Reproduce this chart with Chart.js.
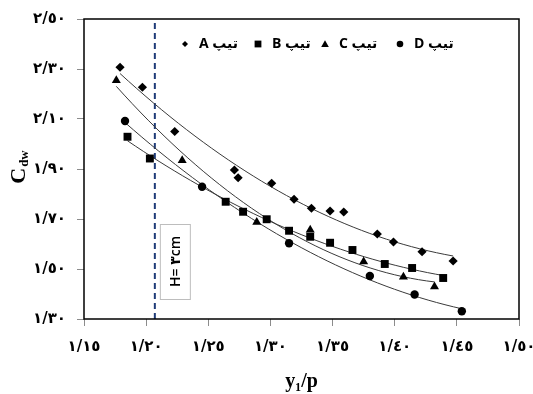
<!DOCTYPE html>
<html>
<head>
<meta charset="utf-8">
<script src="https://cdn.jsdelivr.net/npm/chart.js@4.4.1/dist/chart.umd.min.js"></script>
<style>
  html, body { margin: 0; padding: 0; background: #fff; }
  canvas { display: block; }
</style>
</head>
<body>
<canvas id="myChart" width="533" height="394"></canvas>
<script>
// series (x = y1/p, y = Cdw)
const seriesNames = ['تیپ A', 'تیپ B', 'تیپ C', 'تیپ D'];
const seriesStyles = ['rectRot', 'rect', 'triangle', 'circle'];

const aX = [1.179, 1.197, 1.223, 1.271, 1.274, 1.301, 1.319, 1.333, 1.348, 1.359, 1.386, 1.399, 1.422, 1.447];
const aY = [2.307, 2.227, 2.050, 1.896, 1.865, 1.843, 1.779, 1.743, 1.732, 1.728, 1.640, 1.608, 1.569, 1.532];

const bX = [1.185, 1.203, 1.264, 1.278, 1.297, 1.315, 1.332, 1.348, 1.366, 1.392, 1.414, 1.439];
const bY = [2.029, 1.942, 1.769, 1.729, 1.699, 1.653, 1.629, 1.605, 1.576, 1.520, 1.504, 1.464];

const cX = [1.176, 1.229, 1.289, 1.332, 1.375, 1.407, 1.432];
const cY = [2.254, 1.934, 1.687, 1.656, 1.529, 1.468, 1.429];

const dX = [1.183, 1.245, 1.315, 1.380, 1.416, 1.454];
const dY = [2.092, 1.829, 1.603, 1.472, 1.398, 1.331];

// H = 3cm reference line
const refLineX = 1.207;

const xTickValues = [1.15, 1.20, 1.25, 1.30, 1.35, 1.40, 1.45, 1.50];
const xTickLabels = ['١/١٥', '١/٢٠', '١/٢٥', '١/٣٠', '١/٣٥', '١/٤٠', '١/٤٥', '١/٥٠'];
const yTickValues = [1.30, 1.50, 1.70, 1.90, 2.10, 2.30, 2.50];
const yTickLabels = ['١/٣٠', '١/٥٠', '١/٧٠', '١/٩٠', '٢/١٠', '٢/٣٠', '٢/٥٠'];

const allX = [aX, bX, cX, dX];
const allY = [aY, bY, cY, dY];

// 2nd order least squares trend line, like the spreadsheet trendline
function trend(xs, ys) {
    let s = [0, 0, 0, 0, 0], t = [0, 0, 0];
    for (let i = 0; i < xs.length; i++) {
        const x = xs[i] - 1.3;
        let p = 1;
        for (let k = 0; k < 5; k++) { s[k] += p; if (k < 3) t[k] += p * ys[i]; p *= x; }
    }
    const m = [[s[0], s[1], s[2], t[0]], [s[1], s[2], s[3], t[1]], [s[2], s[3], s[4], t[2]]];
    for (let i = 0; i < 3; i++) {
        for (let j = i + 1; j < 3; j++) {
            const f = m[j][i] / m[i][i];
            for (let k = i; k < 4; k++) m[j][k] -= f * m[i][k];
        }
    }
    const c = [0, 0, 0];
    for (let i = 2; i >= 0; i--) {
        let v = m[i][3];
        for (let k = i + 1; k < 3; k++) v -= m[i][k] * c[k];
        c[i] = v / m[i][i];
    }
    const lo = Math.min(...xs), hi = Math.max(...xs);
    const pts = [];
    for (let i = 0; i <= 40; i++) {
        const x = lo + (hi - lo) * i / 40;
        const u = x - 1.3;
        pts.push({x: x, y: c[0] + c[1] * u + c[2] * u * u});
    }
    return pts;
}

const radii = [4.6, 5.6, 5.2, 4.2];
const datasets = [];
for (let i = 0; i < 4; i++) {
    datasets.push({
        label: seriesNames[i] + ' trend',
        data: trend(allX[i], allY[i]),
        showLine: true,
        borderColor: '#3a3a3a',
        borderWidth: 1,
        pointRadius: 0,
        order: 2
    });
    datasets.push({
        label: seriesNames[i],
        data: allX[i].map((x, j) => ({x: x, y: allY[i][j]})),
        pointStyle: seriesStyles[i],
        pointRadius: radii[i],
        backgroundColor: '#000',
        borderColor: '#000',
        borderWidth: 0,
        order: 0
    });
}
datasets.push({
    label: 'H',
    data: [{x: refLineX, y: 1.3}, {x: refLineX, y: 2.5}],
    showLine: true,
    borderColor: '#1f3c78',
    borderWidth: 2,
    borderDash: [6, 4],
    pointRadius: 0,
    order: 3
});

function marker(ctx, style, x, y, r) {
    ctx.beginPath();
    if (style == 'rectRot') {
        ctx.moveTo(x, y - r); ctx.lineTo(x + r, y); ctx.lineTo(x, y + r); ctx.lineTo(x - r, y);
    } else if (style == 'rect') {
        ctx.rect(x - r, y - r, 2 * r, 2 * r);
    } else if (style == 'triangle') {
        ctx.moveTo(x, y - r); ctx.lineTo(x + r, y + r * 0.8); ctx.lineTo(x - r, y + r * 0.8);
    } else {
        ctx.arc(x, y, r, 0, Math.PI * 2);
    }
    ctx.closePath();
    ctx.fill();
}

// legend item positions (marker centre, from plot left)
const legendPos = [101, 174, 241, 316];

const extras = {
    id: 'extras',
    afterDatasetsDraw(chart) {
        const ctx = chart.ctx;
        const a = chart.chartArea;
        const xs = chart.scales.x, ys = chart.scales.y;
        ctx.save();

        // H = 3cm label box
        const lx = xs.getPixelForValue(refLineX);
        const top = ys.getPixelForValue(1.68), bot = ys.getPixelForValue(1.38);
        ctx.fillStyle = '#fff';
        ctx.fillRect(lx + 5, top, 30, bot - top);
        ctx.strokeStyle = '#bdbdbd';
        ctx.lineWidth = 1;
        ctx.strokeRect(lx + 5.5, top + 0.5, 30, bot - top);
        ctx.save();
        ctx.translate(lx + 21, (top + bot) / 2);
        ctx.rotate(-Math.PI / 2);
        ctx.fillStyle = '#000';
        ctx.font = '600 14px "Open Sans", "DejaVu Sans"';
        ctx.textAlign = 'center';
        ctx.textBaseline = 'middle';
        ctx.fillText('H= ٣cm', 0, 0);
        ctx.restore();

        // frame
        ctx.strokeStyle = '#000';
        ctx.lineWidth = 1.5;
        ctx.strokeRect(a.left, a.top, a.right - a.left, a.bottom - a.top);

        // legend
        ctx.fillStyle = '#000';
        ctx.font = 'bold 14px "Open Sans", "DejaVu Sans"';
        ctx.textBaseline = 'middle';
        ctx.textAlign = 'left';
        ctx.direction = 'rtl';
        const lr = [3, 3.4, 3.8, 3.3];
        const cy = a.top + 25;
        for (let i = 0; i < 4; i++) {
            const cx = a.left + legendPos[i];
            marker(ctx, seriesStyles[i], cx, cy, lr[i]);
            ctx.fillText(seriesNames[i], cx + 14, cy);
        }
        ctx.direction = 'ltr';

        // y axis title C_dw
        ctx.save();
        ctx.font = 'bold 22px "Liberation Serif"';
        const wC = ctx.measureText('C').width;
        ctx.font = 'bold 13px "Liberation Serif"';
        const wS = ctx.measureText('dw').width;
        const mid = (a.top + a.bottom) / 2 - 2;
        ctx.translate(25, mid + (wC + wS + 1) / 2);
        ctx.rotate(-Math.PI / 2);
        ctx.textBaseline = 'alphabetic';
        ctx.font = 'bold 22px "Liberation Serif"';
        ctx.fillText('C', 0, 0);
        ctx.font = 'bold 13px "Liberation Serif"';
        ctx.fillText('dw', wC + 1, 3);
        ctx.restore();

        ctx.restore();
    }
};

const tickFont = {family: 'DejaVu Sans', size: 15, weight: 'bold'};

const config = {
    type: 'scatter',
    data: {datasets},
    options: {
        responsive: false,
        animation: false,
        layout: {padding: {left: 0, top: 19, right: 14, bottom: 0}},
        plugins: {
            legend: {display: false},
            tooltip: {enabled: false}
        },
        scales: {
            x: {
                type: 'linear',
                min: 1.15,
                max: 1.5,
                afterBuildTicks: (s) => { s.ticks = xTickValues.map(v => ({value: v})); },
                afterFit: (s) => { s.height = 75; s.paddingLeft = 0; s.paddingRight = 0; },
                ticks: {
                    callback: (v, i) => xTickLabels[i],
                    font: tickFont,
                    color: '#000',
                    padding: 12,
                    maxRotation: 0,
                    autoSkip: false
                },
                grid: {drawOnChartArea: false, drawTicks: true, tickLength: 7, color: '#8c8c8c'},
                border: {display: false},
                title: {
                    display: true,
                    text: 'y₁/p',
                    color: '#000',
                    font: {family: 'Liberation Serif', size: 20, weight: 'bold'},
                    padding: {top: 0, bottom: 0}
                }
            },
            y: {
                type: 'linear',
                min: 1.3,
                max: 2.5,
                afterBuildTicks: (s) => { s.ticks = yTickValues.map(v => ({value: v})); },
                afterFit: (s) => { s.width = 84; s.paddingTop = 0; s.paddingBottom = 0; },
                ticks: {
                    callback: (v, i) => yTickLabels[i],
                    font: tickFont,
                    color: '#000',
                    padding: 11,
                    autoSkip: false
                },
                grid: {drawOnChartArea: false, drawTicks: true, tickLength: 7, color: '#8c8c8c'},
                border: {display: false}
            }
        }
    },
    plugins: [extras]
};

const myChart = new Chart(document.getElementById('myChart'), config);
</script>
</body>
</html>
